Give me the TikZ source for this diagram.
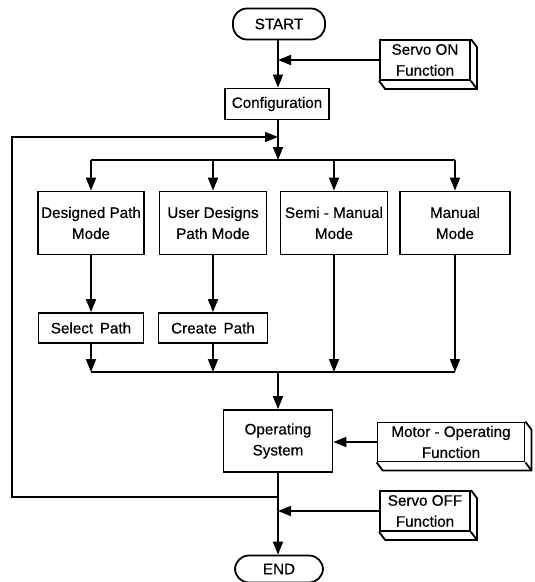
\documentclass[tikz,border=0pt]{standalone}
\usepackage{fontspec}
\setmainfont{Liberation Sans}[FakeBold=0.5]
\usetikzlibrary{arrows.meta,calc}
\tikzset{
  box/.style={draw, line width=1.8pt, align=center, inner sep=0pt},
  term/.style={draw, line width=1.8pt, rounded corners=14pt, inner sep=0pt},
  fbox/.style={draw, line width=1.8pt, align=center, inner sep=0pt},
  conn/.style={line width=1.8pt},
  arr/.style={line width=1.8pt, -{Triangle[length=13pt,width=10pt]}},
}
\newcommand{\slab}[1]{%
  \draw[line width=1.8pt] (#1.north east) -- ++(6,8) -- ($(#1.south east)+(6,8)$) -- ($(#1.south west)+(6,8)$) -- (#1.south west);
  \draw[line width=1.8pt] (#1.south east) -- ++(6,8);}
\begin{document}
\begin{tikzpicture}[x=1pt,y=-1pt, font=\fontsize{15.2}{21}\selectfont]
\useasboundingbox (0,0) rectangle (535,582);
% terminals
\node[term, minimum width=92pt, minimum height=31pt] (start) at (279,24) {START};
\node[term, minimum width=88pt, minimum height=27pt] (end) at (279,569) {END};
% config
\node[box, minimum width=104pt, minimum height=31pt] (config) at (277,104) {Configuration};
% function boxes
\node[fbox, minimum width=90pt, minimum height=40pt] (son) at (425,60) {Servo ON\\Function};
\node[fbox, minimum width=147pt, minimum height=39pt] (motor) at (451,442) {Motor - Operating\\Function};
\node[fbox, minimum width=90pt, minimum height=40pt] (soff) at (425,511) {Servo OFF\\Function};
\slab{son}
\slab{motor}
\slab{soff}
% mode boxes
\node[box, minimum width=106pt, minimum height=63pt] (m1) at (91,223) {Designed Path\\Mode};
\node[box, minimum width=107pt, minimum height=63pt] (m2) at (213,223) {User Designs\\Path Mode};
\node[box, minimum width=107pt, minimum height=63pt] (m3) at (334,223) {Semi - Manual\\Mode};
\node[box, minimum width=110pt, minimum height=63pt] (m4) at (455,223) {Manual\\Mode};
\node[box, minimum width=105pt, minimum height=30pt] (sel) at (91,328) {Select\, Path};
\node[box, minimum width=109pt, minimum height=30pt] (cre) at (213,328) {Create\, Path};
% operating system
\node[box, minimum width=109pt, minimum height=62pt] (ops) at (278,441) {Operating\\System};
% coordinates
\coordinate (j1) at (278,60);
\coordinate (d0) at (278,160);
\coordinate (d1) at (91,160);
\coordinate (d4) at (455,160);
\coordinate (c1) at (91,372);
\coordinate (c2) at (213,372);
\coordinate (c3) at (334,372);
\coordinate (c4) at (455,372);
\coordinate (c0) at (278,372);
\coordinate (fb0) at (278,497);
\coordinate (fbA) at (12,497);
\coordinate (fbB) at (12,137);
\coordinate (fbC) at (278,137);
\coordinate (j2) at (278,511);
% connectors
\draw[arr] (start.south -| j1) -- (config.north -| j1);
\draw[arr] (son.west) -- (j1);
\draw[arr] (config.south -| d0) -- (d0);
\draw[conn] (d1) -- (d4);
\foreach \m in {m1,m2,m3,m4} \draw[arr] (\m.north |- d0) -- (\m.north);
\draw[arr] (m1) -- (sel);
\draw[arr] (m2) -- (cre);
\draw[arr] (sel) -- (c1);
\draw[arr] (cre) -- (c2);
\draw[arr] (m3) -- (c3);
\draw[arr] (m4) -- (c4);
\draw[conn] (c1) -- (c4);
\draw[arr] (c0) -- (ops);
\draw[arr] (motor.west) -- (ops.east |- motor.west);
\draw[arr] (ops) -- (end.north -| ops);
\draw[arr] (soff.west) -- (j2);
\draw[arr] (fb0) -- (fbA) -- (fbB) -- (fbC);
\end{tikzpicture}
\end{document}
